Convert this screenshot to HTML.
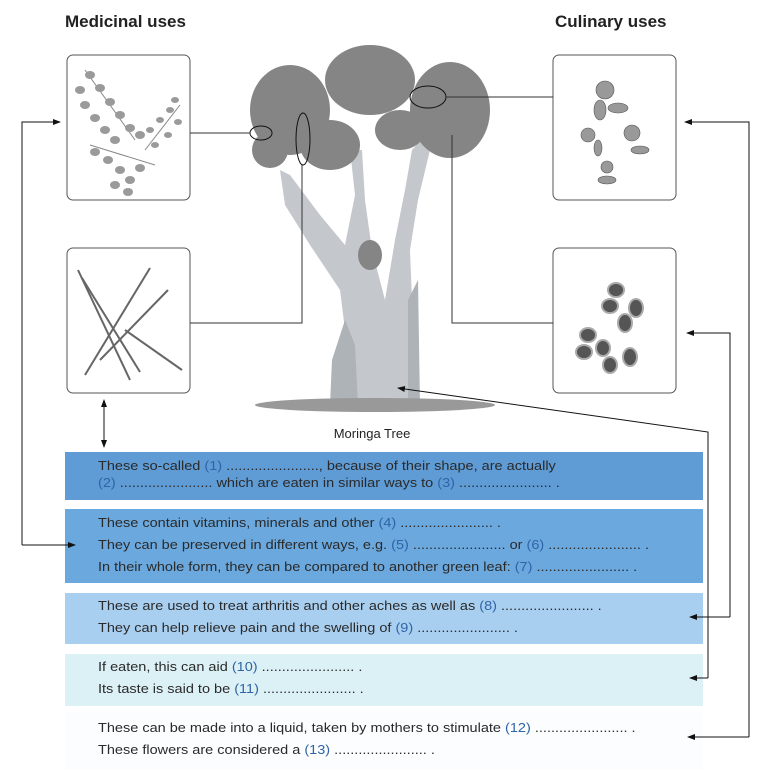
<!DOCTYPE html>
<html><head><meta charset="utf-8"><style>
body{margin:0;background:#fff;width:766px;height:778px;overflow:hidden;position:relative;font-family:"Liberation Sans",sans-serif;}
.t{position:absolute;font-weight:bold;font-size:17px;color:#222;}
.box{position:absolute;left:65px;width:638px;}
.ln{position:absolute;left:98px;font-size:14.5px;line-height:17px;color:#2a2a2a;white-space:nowrap;letter-spacing:0px;transform:scaleY(0.92);transform-origin:left top}
.n{color:#2f64a8}
</style></head><body>
<div class="t" style="left:65px;top:12px">Medicinal uses</div>
<div class="t" style="left:555px;top:12px">Culinary uses</div>

<div class="box" style="top:452px;height:48px;background:#5f9bd4"></div>
<div class="box" style="top:509px;height:74px;background:#6ba8de"></div>
<div class="box" style="top:593px;height:51px;background:#a9cff0"></div>
<div class="box" style="top:654px;height:52px;background:#dcf1f6"></div>
<div class="box" style="top:712px;height:58px;background:#fbfdfe"></div>

<div class="ln" style="top:459px">These so-called <span class="n">(1)</span> ......................., because of their shape, are actually</div>
<div class="ln" style="top:476px"><span class="n">(2)</span> ....................... which are eaten in similar ways to <span class="n">(3)</span> ....................... .</div>
<div class="ln" style="top:516px">These contain vitamins, minerals and other <span class="n">(4)</span> ....................... .</div>
<div class="ln" style="top:538px">They can be preserved in different ways, e.g. <span class="n">(5)</span> ....................... or <span class="n">(6)</span> ....................... .</div>
<div class="ln" style="top:560px">In their whole form, they can be compared to another green leaf: <span class="n">(7)</span> ....................... .</div>
<div class="ln" style="top:599px">These are used to treat arthritis and other aches as well as <span class="n">(8)</span> ....................... .</div>
<div class="ln" style="top:621px">They can help relieve pain and the swelling of <span class="n">(9)</span> ....................... .</div>
<div class="ln" style="top:660px">If eaten, this can aid <span class="n">(10)</span> ....................... .</div>
<div class="ln" style="top:682px">Its taste is said to be <span class="n">(11)</span> ....................... .</div>
<div class="ln" style="top:721px">These can be made into a liquid, taken by mothers to stimulate <span class="n">(12)</span> ....................... .</div>
<div class="ln" style="top:743px">These flowers are considered a <span class="n">(13)</span> ....................... .</div>

<svg width="766" height="778" style="position:absolute;left:0;top:0" xmlns="http://www.w3.org/2000/svg">
<defs><marker id="a" markerWidth="8" markerHeight="8" refX="7" refY="4" orient="auto" markerUnits="userSpaceOnUse"><path d="M0,1 L8,4 L0,7z" fill="#111"/></marker></defs>
<g fill="#fff" stroke="#555" stroke-width="1">
<rect x="67" y="55" width="123" height="145" rx="6"/>
<rect x="67" y="248" width="123" height="145" rx="6"/>
<rect x="553" y="55" width="123" height="145" rx="6"/>
<rect x="553" y="248" width="123" height="145" rx="6"/>
</g>
<g stroke="#888" stroke-width="1" fill="none"><line x1="85" y1="70" x2="135" y2="140"/><line x1="145" y1="150" x2="180" y2="105"/><line x1="90" y1="145" x2="155" y2="165"/></g>
<g fill="#9a9a9a">
<ellipse cx="90" cy="75" rx="5" ry="4"/><ellipse cx="80" cy="90" rx="5" ry="4"/><ellipse cx="100" cy="88" rx="5" ry="4"/><ellipse cx="85" cy="105" rx="5" ry="4"/><ellipse cx="110" cy="102" rx="5" ry="4"/><ellipse cx="95" cy="118" rx="5" ry="4"/><ellipse cx="120" cy="115" rx="5" ry="4"/><ellipse cx="105" cy="130" rx="5" ry="4"/><ellipse cx="130" cy="128" rx="5" ry="4"/><ellipse cx="115" cy="140" rx="5" ry="4"/><ellipse cx="140" cy="135" rx="5" ry="4"/>
<ellipse cx="150" cy="130" rx="4" ry="3"/><ellipse cx="160" cy="120" rx="4" ry="3"/><ellipse cx="170" cy="110" rx="4" ry="3"/><ellipse cx="155" cy="145" rx="4" ry="3"/><ellipse cx="168" cy="135" rx="4" ry="3"/><ellipse cx="178" cy="122" rx="4" ry="3"/><ellipse cx="175" cy="100" rx="4" ry="3"/>
<ellipse cx="95" cy="152" rx="5" ry="4"/><ellipse cx="108" cy="160" rx="5" ry="4"/><ellipse cx="120" cy="170" rx="5" ry="4"/><ellipse cx="130" cy="180" rx="5" ry="4"/><ellipse cx="115" cy="185" rx="5" ry="4"/><ellipse cx="140" cy="168" rx="5" ry="4"/><ellipse cx="128" cy="192" rx="5" ry="4"/>
</g>
<g stroke="#666" stroke-width="2" fill="none"><path d="M78,270 L130,380"/><path d="M82,278 L140,372"/><path d="M85,375 L150,268"/><path d="M100,360 L168,290"/><path d="M125,330 L182,370"/></g>
<g fill="#999" stroke="#555" stroke-width=".6">
<circle cx="605" cy="90" r="9"/><ellipse cx="600" cy="110" rx="6" ry="10"/><ellipse cx="618" cy="108" rx="10" ry="5"/>
<circle cx="588" cy="135" r="7"/><circle cx="632" cy="133" r="8"/><ellipse cx="640" cy="150" rx="9" ry="4"/><ellipse cx="598" cy="148" rx="4" ry="8"/>
<circle cx="607" cy="167" r="6"/><ellipse cx="607" cy="180" rx="9" ry="4"/>
</g>
<g fill="#555" stroke="#aaa" stroke-width="2">
<ellipse cx="616" cy="290" rx="8" ry="7"/><ellipse cx="610" cy="306" rx="8" ry="7"/><ellipse cx="636" cy="308" rx="7" ry="9"/><ellipse cx="625" cy="323" rx="7" ry="9"/>
<ellipse cx="588" cy="335" rx="8" ry="7"/><ellipse cx="584" cy="352" rx="8" ry="7"/><ellipse cx="603" cy="348" rx="7" ry="8"/><ellipse cx="610" cy="365" rx="7" ry="8"/><ellipse cx="630" cy="357" rx="7" ry="9"/>
</g>
<g fill="#c4c8cc">
<path d="M340,405 L345,330 L340,290 L310,245 L285,205 L280,170 L290,175 L320,215 L345,245 L355,195 L350,150 L362,150 L365,200 L372,250 L385,300 L395,240 L405,190 L412,150 L425,135 L430,150 L418,200 L410,250 L412,300 L415,405z"/>
<path d="M330,405 L332,360 L345,320 L355,345 L358,405z" fill="#aeb3b8"/>
<path d="M408,405 L408,300 L418,280 L420,405z" fill="#aeb3b8"/>
</g>
<g fill="#858585">
<ellipse cx="290" cy="110" rx="40" ry="45"/><ellipse cx="370" cy="80" rx="45" ry="35"/><ellipse cx="450" cy="110" rx="40" ry="48"/><ellipse cx="330" cy="145" rx="30" ry="25"/><ellipse cx="400" cy="130" rx="25" ry="20"/><ellipse cx="270" cy="150" rx="18" ry="18"/><ellipse cx="370" cy="255" rx="12" ry="15"/>
</g>
<g fill="#999"><ellipse cx="375" cy="405" rx="120" ry="7"/></g>
<g fill="none" stroke="#111" stroke-width="1">
<ellipse cx="261" cy="133" rx="11" ry="7"/><ellipse cx="303" cy="139" rx="7" ry="26"/><ellipse cx="428" cy="97" rx="18" ry="11"/>
</g>
<g stroke="#333" stroke-width="1" fill="none">
<path d="M190,133 H250"/><path d="M190,323 H302 V165"/><path d="M553,97 H446"/><path d="M553,323 H452 V135"/>
</g>
<g stroke="#111" stroke-width="1" fill="none" marker-end="url(#a)">
<path d="M22,545 V122 H60"/><path d="M22,545 H75"/>
<path d="M749,737 V122 H685"/><path d="M749,737 H688"/>
<path d="M730,617 V333 H687"/><path d="M730,617 H690"/>
<path d="M708,678 V432 L398,388"/><path d="M708,678 H690"/>
<path d="M104,425 V447"/><path d="M104,425 V400"/>
</g>
<text x="372" y="438" text-anchor="middle" font-size="13" font-family="Liberation Sans,sans-serif" fill="#222">Moringa Tree</text>
</svg>
</body></html>
